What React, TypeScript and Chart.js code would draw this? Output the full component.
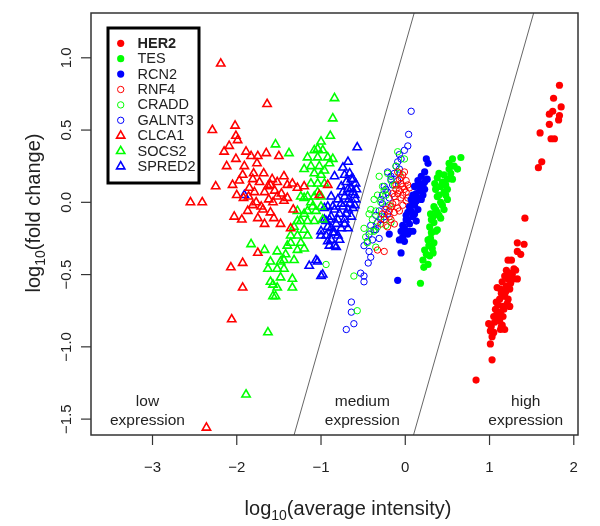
import React, { useEffect, useRef } from "react";
import { Chart, registerables } from "chart.js";
Chart.register(...registerables);

// ---- data: [log10(average intensity), log10(fold change)] ----
const her2: number[][] = [
  [1.83, 0.81], [1.76, 0.72], [1.85, 0.66], [1.71, 0.61], [1.75, 0.63], [1.83, 0.6], [1.82, 0.57], [1.71, 0.54],
  [1.6, 0.48], [1.73, 0.44], [1.77, 0.44], [1.62, 0.28], [1.58, 0.24],
  [1.42, -0.11], [1.33, -0.28], [1.41, -0.29], [1.33, -0.34], [1.37, -0.36], [1.22, -0.4], [1.26, -0.4], [1.29, -0.46],
  [1.31, -0.47], [1.24, -0.49], [1.18, -0.51], [1.22, -0.53], [1.28, -0.53], [1.33, -0.53], [1.09, -0.59], [1.2, -0.58],
  [1.24, -0.6], [1.14, -0.63], [1.18, -0.65], [1.12, -0.67], [1.22, -0.67], [1.1, -0.71], [1.16, -0.72], [1.24, -0.72],
  [1.07, -0.74], [1.13, -0.76], [1.05, -0.79], [1.1, -0.8], [1.16, -0.79], [0.99, -0.84], [1.02, -0.86], [1.06, -0.83],
  [1.14, -0.86], [1.18, -0.88], [1.13, -0.88], [1.01, -0.89], [1.03, -0.93], [1.01, -0.98], [1.03, -1.09], [0.84, -1.23],
  [1.15, -0.55], [1.19, -0.62], [1.21, -0.7], [1.09, -0.77], [1.12, -0.82], [1.17, -0.74], [1.25, -0.56], [1.27, -0.5],
  [1.05, -0.9], [1.08, -0.69], [1.13, -0.6], [1.2, -0.47], [1.15, -0.85],
];
const tes: number[][] = [
  [0.56, 0.3], [0.66, 0.31], [0.58, 0.25], [0.62, 0.23], [0.52, 0.23], [0.46, 0.19], [0.38, 0.17], [0.5, 0.16],
  [0.56, 0.16], [0.42, 0.11], [0.5, 0.09], [0.46, 0.07], [0.38, 0.04], [0.5, 0.02], [0.42, 0.0], [0.34, -0.03],
  [0.46, -0.05], [0.38, -0.07], [0.33, -0.1], [0.42, -0.11], [0.34, -0.14], [0.29, -0.17], [0.38, -0.19], [0.31, -0.21],
  [0.27, -0.26], [0.34, -0.28], [0.23, -0.33], [0.29, -0.37], [0.33, -0.35], [0.21, -0.4], [0.27, -0.43], [0.18, -0.56],
  [0.4, 0.2], [0.44, 0.14], [0.36, 0.09], [0.48, 0.12], [0.4, 0.05], [0.44, -0.02], [0.36, -0.05], [0.4, -0.09],
  [0.31, -0.12], [0.36, -0.2], [0.3, -0.25], [0.28, -0.3], [0.25, -0.36], [0.32, -0.32], [0.22, -0.45], [0.54, 0.2],
  [0.48, 0.05], [0.52, 0.27], [0.35, 0.13], [0.3, -0.08],
];
const rcn2: number[][] = [
  [0.25, 0.3], [0.27, 0.27], [0.23, 0.21], [0.19, 0.18], [0.26, 0.16], [0.15, 0.15], [0.21, 0.12], [0.11, 0.11],
  [0.17, 0.08], [0.23, 0.09], [0.09, 0.05], [0.15, 0.03], [0.07, 0.02], [0.19, 0.02], [0.11, -0.02], [0.05, -0.03],
  [0.15, -0.05], [0.03, -0.07], [0.09, -0.1], [0.01, -0.12], [0.13, -0.13], [0.05, -0.15], [-0.01, -0.18], [0.09, -0.2],
  [-0.05, -0.2], [0.03, -0.22], [-0.07, -0.26], [-0.01, -0.27], [-0.05, -0.35], [-0.09, -0.54], [-0.19, -0.22],
  [0.21, 0.05], [0.13, 0.06], [0.07, -0.06], [0.11, -0.08], [0.17, 0.13], [0.01, -0.09], [-0.03, -0.16], [0.05, -0.2],
  [-0.03, -0.24], [0.19, 0.1], [0.09, 0.0], [-0.01, -0.21], [0.13, 0.01], [0.03, -0.12], [0.23, 0.14],
];
const rnf4: number[][] = [
  [-0.01, 0.21], [-0.07, 0.16], [0.01, 0.15], [-0.11, 0.12], [-0.03, 0.11], [0.05, 0.1], [-0.07, 0.08], [0.01, 0.07],
  [-0.13, 0.04], [-0.05, 0.03], [0.03, 0.03], [-0.11, 0.0], [-0.03, -0.02], [-0.17, -0.03], [-0.09, -0.04], [-0.23, -0.05],
  [-0.13, -0.07], [-0.19, -0.1], [-0.27, -0.08], [-0.17, -0.12], [-0.13, -0.15], [-0.21, -0.17], [-0.29, -0.15],
  [-0.25, -0.34], [-0.33, -0.33], [-0.03, 0.19], [-0.09, 0.21],
  [-0.05, 0.13], [-0.01, 0.09], [-0.09, 0.06], [-0.15, -0.01], [-0.07, -0.06], [0.03, 0.12], [-0.11, 0.09], [-0.19, -0.06],
  [-0.25, -0.12], [-0.03, 0.05], [-0.05, 0.17], [0.01, 0.01], [-0.15, 0.06],
];
const cradd: number[][] = [
  [-0.09, 0.35], [-0.01, 0.3], [-0.11, 0.25], [-0.21, 0.2], [-0.31, 0.18], [-0.17, 0.15], [-0.27, 0.11], [-0.37, 0.02],
  [-0.29, 0.0], [-0.43, -0.08], [-0.35, -0.06], [-0.39, -0.12], [-0.49, -0.18], [-0.41, -0.2], [-0.33, -0.17],
  [-0.45, -0.28], [-0.35, -0.31], [-0.61, -0.51], [-0.57, -0.75], [-0.94, -0.43], [-0.23, 0.05], [-0.17, -0.14],
  [-0.25, 0.08], [-0.29, -0.1], [-0.13, 0.12], [-0.37, -0.2], [-0.47, -0.24], [-0.19, -0.02], [-0.33, 0.05],
  [-0.41, -0.05], [-0.07, 0.2], [-0.23, -0.16],
];
const galnt3: number[][] = [
  [0.07, 0.63], [0.04, 0.47], [0.03, 0.39], [-0.01, 0.36], [-0.07, 0.33], [-0.09, 0.28], [-0.07, 0.23], [-0.13, 0.2],
  [-0.21, 0.21], [-0.17, 0.16], [-0.25, 0.11], [-0.21, 0.07], [-0.29, 0.02], [-0.23, -0.03], [-0.31, -0.06],
  [-0.25, -0.1], [-0.33, -0.14], [-0.41, -0.16], [-0.35, -0.19], [-0.43, -0.22], [-0.39, -0.26], [-0.49, -0.3],
  [-0.43, -0.34], [-0.41, -0.38], [-0.44, -0.42], [-0.53, -0.49], [-0.49, -0.51], [-0.49, -0.55], [-0.64, -0.69],
  [-0.64, -0.76], [-0.61, -0.84], [-0.7, -0.88],
  [-0.11, 0.25], [-0.15, 0.12], [-0.19, 0.03], [-0.27, -0.01], [-0.29, -0.12], [-0.37, -0.19], [-0.23, 0.09],
  [-0.05, 0.3], [-0.17, 0.18], [-0.31, -0.25], [-0.45, -0.27], [-0.35, -0.09], [-0.21, -0.08], [-0.09, 0.15], [-0.27, 0.05],
];
const clca1: number[][] = [
  [-2.19, 0.96], [-2.57, 0.71], [-1.64, 0.68], [-2.29, 0.5], [-2.02, 0.53], [-2.01, 0.46], [-2.09, 0.39], [-1.99, 0.43],
  [-1.89, 0.35], [-1.75, 0.32], [-1.65, 0.34], [-1.5, 0.32], [-2.01, 0.3], [-1.91, 0.25], [-1.76, 0.27], [-1.93, 0.19],
  [-1.8, 0.2], [-1.81, 0.16], [-2.05, 0.12], [-2.25, 0.11], [-1.97, 0.15], [-1.79, 0.07], [-1.67, 0.07], [-1.63, 0.11],
  [-1.52, 0.14], [-1.44, 0.18], [-1.4, 0.12], [-1.34, 0.13], [-1.28, 0.1], [-1.2, 0.11], [-2.55, 0.0], [-2.41, 0.0],
  [-1.77, 0.0], [-1.71, -0.03], [-1.57, 0.0], [-1.52, 0.04], [-1.44, 0.01], [-1.87, -0.06], [-1.75, -0.11], [-2.03, -0.1],
  [-1.67, -0.15], [-1.56, -0.11], [-1.48, -0.15], [-1.36, -0.18], [-1.75, -0.35], [-1.93, -0.42], [-2.07, -0.45],
  [-1.93, -0.59], [-2.06, -0.81], [-1.02, 0.05], [-0.92, 0.12], [-2.36, -1.56],
  [-1.73, 0.14], [-1.6, 0.12], [-1.55, 0.08], [-1.47, 0.06], [-1.62, 0.02], [-1.85, 0.1], [-1.92, 0.03], [-2.0, 0.05],
  [-1.69, -0.05], [-1.6, -0.07], [-1.81, -0.02], [-1.94, -0.12], [-2.12, 0.25], [-2.15, 0.35], [-1.83, 0.32],
  [-1.4, 0.03], [-1.33, -0.05], [-1.58, 0.16], [-1.68, 0.2], [-1.86, 0.04],
];
const socs2: number[][] = [
  [-0.84, 0.72], [-0.86, 0.58], [-0.89, 0.46], [-1.0, 0.42], [-0.98, 0.36], [-1.08, 0.36], [-1.16, 0.31], [-1.04, 0.31],
  [-0.92, 0.31], [-0.86, 0.3], [-1.12, 0.25], [-1.02, 0.25], [-1.2, 0.23], [-1.08, 0.2], [-1.0, 0.19], [-1.04, 0.13],
  [-0.96, 0.13], [-1.24, 0.04], [-1.16, 0.04], [-1.08, 0.04], [-1.0, 0.04], [-1.12, 0.0], [-1.28, -0.06], [-1.16, -0.06],
  [-1.06, -0.06], [-0.98, -0.12], [-1.24, -0.13], [-1.16, -0.13], [-1.08, -0.13], [-1.32, -0.17], [-1.2, -0.19],
  [-1.28, -0.23], [-1.36, -0.23], [-1.16, -0.23], [-1.24, -0.28], [-1.36, -0.28], [-1.28, -0.33], [-1.42, -0.36],
  [-1.52, -0.34], [-1.32, -0.4], [-1.67, -0.33], [-1.83, -0.29], [-1.6, -0.41], [-1.48, -0.41], [-1.52, -0.46],
  [-1.63, -0.46], [-1.44, -0.46], [-1.34, -0.53], [-1.57, -0.57], [-1.52, -0.59], [-1.34, -0.59], [-1.57, -0.65],
  [-1.54, -0.65], [-1.63, -0.9], [-1.54, 0.4], [-1.38, 0.34], [-1.2, 0.03], [-1.89, -1.33],
  [-1.12, 0.13], [-1.04, 0.07], [-0.96, 0.22], [-1.1, -0.03], [-1.2, -0.08], [-1.0, -0.03], [-1.28, -0.13],
  [-1.2, -0.32], [-1.4, -0.3], [-1.44, -0.4], [-1.04, 0.37], [-0.9, 0.27], [-1.48, -0.52], [-1.6, -0.55],
];
const spred2: number[][] = [
  [-0.57, 0.38], [-0.68, 0.28], [-0.74, 0.24], [-0.84, 0.18], [-1.91, 0.05], [-0.88, 0.04], [-0.92, -0.03], [-0.96, -0.04],
  [-0.9, -0.12], [-0.94, -0.13], [-1.0, -0.2], [-0.86, -0.21], [-0.92, -0.27], [-0.82, -0.31], [-1.06, -0.4],
  [-1.14, -0.44], [-1.0, -0.51], [-0.72, 0.19], [-0.64, 0.16], [-0.59, 0.13], [-0.76, 0.11], [-0.68, 0.09], [-0.62, 0.07],
  [-0.72, 0.04], [-0.8, 0.02], [-0.67, 0.02], [-0.59, 0.02], [-0.74, -0.03], [-0.84, -0.05], [-0.68, -0.05], [-0.78, -0.08],
  [-0.88, -0.1], [-0.72, -0.12], [-0.82, -0.15], [-0.92, -0.17], [-0.76, -0.18], [-0.84, -0.21], [-0.94, -0.23],
  [-0.88, -0.26], [-0.78, -0.26], [-1.0, -0.23], [-0.9, -0.3], [-0.84, -0.3], [-1.04, -0.41], [-0.98, -0.5],
  [-0.64, 0.1], [-0.6, 0.05], [-0.7, 0.14], [-0.66, -0.01], [-0.62, -0.04], [-0.7, -0.08], [-0.74, 0.07], [-0.76, -0.01],
  [-0.8, -0.12], [-0.86, -0.03], [-0.66, 0.2], [-0.62, 0.16], [-0.58, 0.09], [-0.72, -0.15], [-0.8, -0.23],
  [-0.88, -0.18], [-0.96, -0.12], [-0.6, -0.02], [-0.64, -0.1], [-0.68, -0.18],
];

// boundary lines between expression regions (two endpoints each, clipped to the plot)
const lowMediumLine: number[][] = [[-1.4, -1.774], [0.2, 1.503]];
const mediumHighLine: number[][] = [[0.0, -1.81], [1.6, 1.466]];

const seriesNames = ["HER2", "TES", "RCN2", "RNF4", "CRADD", "GALNT3", "CLCA1", "SOCS2", "SPRED2"];
const seriesData = [her2, tes, rcn2, rnf4, cradd, galnt3, clca1, socs2, spred2];
const seriesColors = ["#FF0000", "#00FF00", "#0000FF", "#FF0000", "#00FF00", "#0000FF", "#FF0000", "#00FF00", "#0000FF"];
const seriesShapes = ["dot", "dot", "dot", "ring", "ring", "ring", "tri", "tri", "tri"];

const xTicks = [-3, -2, -1, 0, 1, 2];
const xTickLabels = ["\u22123", "\u22122", "\u22121", "0", "1", "2"];
const yTicks = [1.0, 0.5, 0.0, -0.5, -1.0, -1.5];
const yTickLabels = ["1.0", "0.5", "0.0", "\u22120.5", "\u22121.0", "\u22121.5"];

const regionNames = ["low", "medium", "high"];
const regionX = [-3.06, -0.51, 1.43];
const regionLineY = [-1.38, -1.51];

const FONT = '"Liberation Sans", Arial, Helvetica, sans-serif';

function drawMarker(ctx: CanvasRenderingContext2D, shape: string, color: string, x: number, y: number) {
  ctx.beginPath();
  if (shape === "dot") {
    ctx.arc(x, y, 3.6, 0, Math.PI * 2);
    ctx.fillStyle = color;
    ctx.fill();
  } else if (shape === "ring") {
    ctx.arc(x, y, 3.2, 0, Math.PI * 2);
    ctx.strokeStyle = color;
    ctx.lineWidth = 1;
    ctx.stroke();
  } else {
    const r = 4.8;
    ctx.moveTo(x, y - r);
    ctx.lineTo(x + r * 0.866, y + r / 2);
    ctx.lineTo(x - r * 0.866, y + r / 2);
    ctx.closePath();
    ctx.strokeStyle = color;
    ctx.lineWidth = 1.6;
    ctx.stroke();
  }
}

const decorPlugin = {
  id: "rDecor",
  afterDraw(chart: any) {
    const { ctx, chartArea: a, scales } = chart;
    const xs = scales.x;
    const ys = scales.y;
    ctx.save();
    // plot box
    ctx.strokeStyle = "#333";
    ctx.lineWidth = 1.5;
    ctx.strokeRect(a.left, a.top, a.right - a.left, a.bottom - a.top);

    // x ticks
    ctx.lineWidth = 1.2;
    ctx.fillStyle = "#222";
    ctx.font = `15px ${FONT}`;
    ctx.textAlign = "center";
    ctx.textBaseline = "middle";
    xTicks.forEach((v, i) => {
      const px = xs.getPixelForValue(v);
      ctx.beginPath();
      ctx.moveTo(px, a.bottom);
      ctx.lineTo(px, a.bottom + 10);
      ctx.stroke();
      ctx.fillText(xTickLabels[i], px, 468);
    });
    // y ticks
    yTicks.forEach((v, i) => {
      const py = ys.getPixelForValue(v);
      ctx.beginPath();
      ctx.moveTo(a.left, py);
      ctx.lineTo(a.left - 10, py);
      ctx.stroke();
      ctx.save();
      ctx.translate(71, py);
      ctx.rotate(-Math.PI / 2);
      ctx.textAlign = "center";
      ctx.textBaseline = "alphabetic";
      ctx.fillText(yTickLabels[i], 0, 0);
      ctx.restore();
    });

    // axis titles with subscript 10
    const drawTitle = (rest: string) => {
      ctx.font = `20px ${FONT}`;
      const w1 = ctx.measureText("log").width;
      const w3 = ctx.measureText(rest).width;
      ctx.font = `14px ${FONT}`;
      const w2 = ctx.measureText("10").width;
      const total = w1 + w2 + w3;
      let cx = -total / 2;
      ctx.textAlign = "left";
      ctx.textBaseline = "alphabetic";
      ctx.font = `20px ${FONT}`;
      ctx.fillText("log", cx, 0);
      cx += w1;
      ctx.font = `14px ${FONT}`;
      ctx.fillText("10", cx, 5);
      cx += w2;
      ctx.font = `20px ${FONT}`;
      ctx.fillText(rest, cx, 0);
    };
    ctx.save();
    ctx.translate(348, 515);
    drawTitle("(average intensity)");
    ctx.restore();
    ctx.save();
    ctx.translate(40, 213);
    ctx.rotate(-Math.PI / 2);
    drawTitle("(fold change)");
    ctx.restore();

    // region labels
    ctx.font = `15.5px ${FONT}`;
    ctx.textAlign = "center";
    ctx.textBaseline = "middle";
    ctx.fillStyle = "#222";
    regionNames.forEach((n, i) => {
      const px = xs.getPixelForValue(regionX[i]);
      ctx.fillText(n, px, ys.getPixelForValue(regionLineY[0]));
      ctx.fillText("expression", px, ys.getPixelForValue(regionLineY[1]));
    });

    // legend
    const lx = 108, ly = 28, lw = 91, lh = 155;
    ctx.fillStyle = "#fff";
    ctx.fillRect(lx, ly, lw, lh);
    ctx.strokeStyle = "#000";
    ctx.lineWidth = 3;
    ctx.strokeRect(lx, ly, lw, lh);
    seriesNames.forEach((n, i) => {
      const yy = 43.3 + i * 15.4;
      drawMarker(ctx, seriesShapes[i], seriesColors[i], 120.7, yy);
      ctx.fillStyle = "#222";
      ctx.font = `${i === 0 ? "bold " : ""}14.5px ${FONT}`;
      ctx.textAlign = "left";
      ctx.textBaseline = "middle";
      ctx.fillText(n, 137.5, yy + 0.5);
    });
    ctx.restore();
  },
};

export default function App() {
  const ref = useRef<HTMLCanvasElement>(null);
  useEffect(() => {
    document.body.style.margin = "0";
    const canvas = ref.current!;
    const datasets: any[] = seriesNames.map((name, i) => {
      const shape = seriesShapes[i];
      const color = seriesColors[i];
      return {
        label: name,
        data: seriesData[i].map(([x, y]) => ({ x, y })),
        pointStyle: shape === "tri" ? "triangle" : "circle",
        pointRadius: shape === "dot" ? 3.6 : shape === "ring" ? 3.2 : 4.8,
        pointBorderWidth: shape === "dot" ? 0 : shape === "ring" ? 1 : 1.6,
        pointBackgroundColor: shape === "dot" ? color : "rgba(0,0,0,0)",
        pointBorderColor: color,
        showLine: false,
        clip: false,
      };
    });
    [lowMediumLine, mediumHighLine].forEach((ln, i) => {
      datasets.push({
        label: "boundary" + i,
        data: ln.map(([x, y]) => ({ x, y })),
        showLine: true,
        borderColor: "#555",
        borderWidth: 0.9,
        pointRadius: 0,
        clip: 0,
      });
    });
    const chart = new Chart(canvas, {
      type: "scatter",
      data: { datasets },
      options: {
        animation: false,
        responsive: false,
        devicePixelRatio: 1,
        layout: { padding: { left: 91, top: 13, right: 22, bottom: 91 } },
        plugins: { legend: { display: false }, tooltip: { enabled: false } },
        scales: {
          x: { type: "linear", min: -3.73, max: 2.05, display: false },
          y: { type: "linear", min: -1.61, max: 1.31, display: false },
        },
      },
      plugins: [decorPlugin],
    });
    return () => chart.destroy();
  }, []);
  return (
    <div style={{ width: 600, height: 526 }}>
      <canvas ref={ref} width={600} height={526} style={{ display: "block", width: 600, height: 526 }} />
    </div>
  );
}
